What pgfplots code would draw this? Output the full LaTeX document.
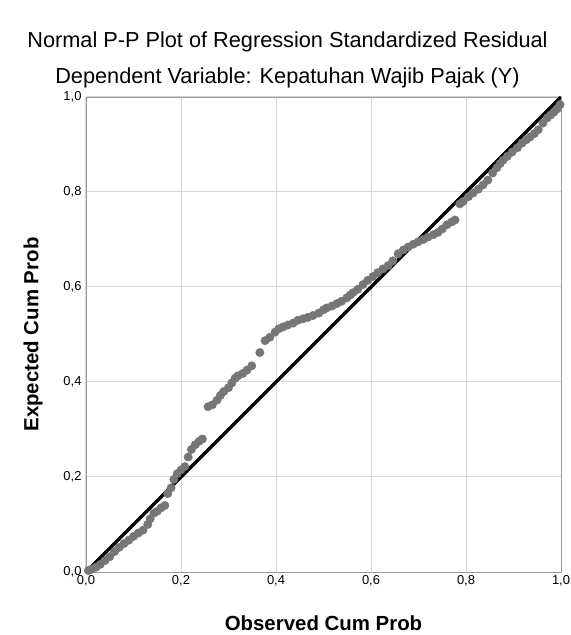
\documentclass[border=0pt]{standalone}
\usepackage{fontspec}
\setmainfont{Liberation Sans}
\usepackage{pgfplots}
\pgfplotsset{compat=1.18}
\definecolor{ptgray}{RGB}{118,118,118}
\definecolor{gridgray}{RGB}{214,214,214}
\definecolor{framegray}{RGB}{155,155,155}

\begin{document}
\begin{tikzpicture}[x=1bp,y=1bp]
\path[use as bounding box,fill=white] (-86,-63) rectangle (485,572);
\begin{axis}[
  at={(0,0)},anchor=south west,
  scale only axis,width=475bp,height=475bp,
  xmin=0,xmax=1,ymin=0,ymax=1,
  xtick={0,0.2,...,1},ytick={0,0.2,...,1},
  grid=major,major grid style={draw=gridgray,line width=1bp},
  axis line style={draw=framegray,line width=0.9bp},
  major tick length=0pt,
  /pgf/number format/.cd,use comma,fixed,fixed zerofill,precision=1,assume math mode=true,
  /pgfplots/.cd,
  tick label style={font=\fontsize{13}{15}\selectfont},
  yticklabel style={xshift=-1bp},
  xlabel={\textbf{Observed Cum Prob}},
  ylabel={\textbf{Expected Cum Prob}},
  label style={font=\fontsize{20.5}{23}\selectfont},
  xlabel style={at={(axis description cs:0.5,0)},anchor=center,yshift=-51bp},
  ylabel style={at={(axis description cs:0,0.5)},anchor=center,yshift=53bp},
]
\addplot[only marks,mark=*,mark size=4.2bp,color=ptgray,mark options={draw=ptgray,fill=ptgray}] coordinates {
(0.005,0.003)(0.012,0.006)(0.021,0.010)(0.030,0.016)(0.040,0.024)
(0.050,0.032)(0.060,0.043)(0.070,0.052)(0.080,0.060)(0.090,0.067)
(0.100,0.075)(0.110,0.082)(0.120,0.088)(0.130,0.100)(0.135,0.112)
(0.143,0.124)(0.150,0.128)(0.158,0.135)(0.166,0.140)(0.172,0.165)
(0.179,0.177)(0.185,0.195)(0.192,0.207)(0.200,0.215)(0.208,0.222)
(0.215,0.242)(0.222,0.258)(0.230,0.268)(0.238,0.275)(0.245,0.280)
(0.257,0.348)(0.266,0.352)(0.276,0.362)(0.283,0.372)(0.290,0.380)
(0.300,0.388)(0.307,0.398)(0.314,0.408)(0.320,0.413)(0.330,0.418)
(0.339,0.425)(0.349,0.434)(0.366,0.462)(0.377,0.487)(0.387,0.494)
(0.398,0.505)(0.406,0.512)(0.415,0.516)(0.425,0.520)(0.436,0.524)
(0.446,0.530)(0.457,0.533)(0.467,0.536)(0.478,0.540)(0.490,0.545)
(0.500,0.552)(0.507,0.556)(0.518,0.560)(0.528,0.565)(0.538,0.570)
(0.549,0.577)(0.556,0.583)(0.562,0.588)(0.572,0.595)(0.583,0.605)
(0.593,0.614)(0.604,0.622)(0.614,0.630)(0.625,0.638)(0.636,0.645)
(0.646,0.655)(0.657,0.670)(0.668,0.678)(0.678,0.684)(0.689,0.690)
(0.699,0.695)(0.710,0.700)(0.720,0.705)(0.731,0.710)(0.741,0.715)
(0.750,0.722)(0.760,0.731)(0.770,0.737)(0.777,0.741)(0.787,0.775)
(0.794,0.780)(0.805,0.790)(0.815,0.798)(0.826,0.806)(0.836,0.815)
(0.846,0.825)(0.856,0.840)(0.865,0.851)(0.872,0.860)(0.878,0.867)
(0.887,0.875)(0.897,0.884)(0.908,0.893)(0.918,0.903)(0.927,0.910)
(0.935,0.916)(0.944,0.923)(0.952,0.931)(0.962,0.945)(0.971,0.956)
(0.978,0.962)(0.985,0.968)(0.992,0.975)(0.998,0.984)
};
\addplot[black,line width=3.2bp] coordinates {(0,0)(1,1)};
\end{axis}
% titles, centred on the whole picture
\node[font=\fontsize{21.8}{25}\selectfont] at (201.5,530) {Normal P-P Plot of Regression Standardized Residual};
\node[font=\fontsize{21.8}{25}\selectfont] at (201.5,494) {Dependent Variable: Kepatuhan Wajib Pajak (Y)};
\end{tikzpicture}
\end{document}
